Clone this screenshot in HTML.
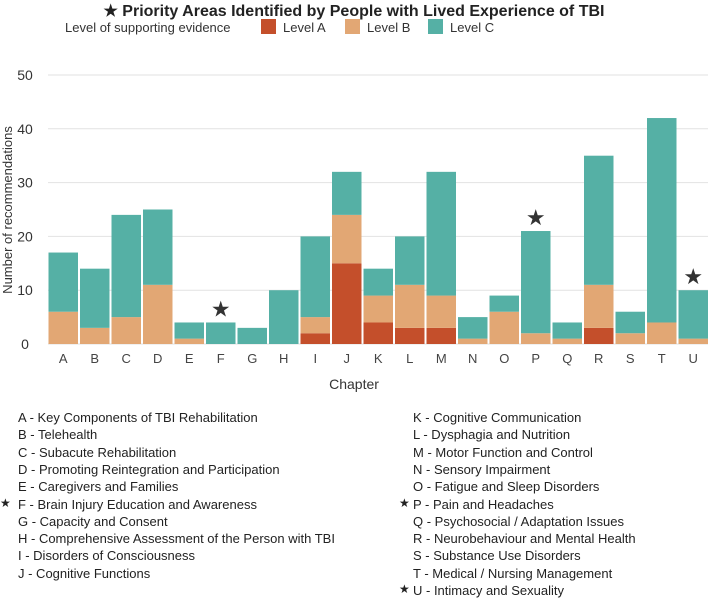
<!DOCTYPE html>
<html><head><meta charset="utf-8"><style>
body{margin:0;width:708px;height:603px;background:#fff;font-family:"Liberation Sans",sans-serif;color:#222;overflow:hidden;position:relative}
.t{position:absolute;white-space:nowrap}
</style></head><body>
<div class="t" style="left:0;width:708px;text-align:center;top:1px;font-size:16px;font-weight:bold;color:#222">★ Priority Areas Identified by People with Lived Experience of TBI</div>
<svg id="c" width="708" height="400" style="position:absolute;left:0;top:0"></svg>
<div id="key"></div>
<script>
const categories=["A","B","C","D","E","F","G","H","I","J","K","L","M","N","O","P","Q","R","S","T","U"];
const levelA=[0,0,0,0,0,0,0,0,2,15,4,3,3,0,0,0,0,3,0,0,0];
const levelB=[6,3,5,11,1,0,0,0,3,9,5,8,6,1,6,2,1,8,2,4,1];
const levelC=[11,11,19,14,3,4,3,10,15,8,5,9,23,4,3,19,3,24,4,38,9];
const starred=["F","P","U"];
const yTicks=[0,10,20,30,40,50];
const chapterNames=["Key Components of TBI Rehabilitation","Telehealth","Subacute Rehabilitation","Promoting Reintegration and Participation","Caregivers and Families","Brain Injury Education and Awareness","Capacity and Consent","Comprehensive Assessment of the Person with TBI","Disorders of Consciousness","Cognitive Functions","Cognitive Communication","Dysphagia and Nutrition","Motor Function and Control","Sensory Impairment","Fatigue and Sleep Disorders","Pain and Headaches","Psychosocial / Adaptation Issues","Neurobehaviour and Mental Health","Substance Use Disorders","Medical / Nursing Management","Intimacy and Sexuality"];
const NS="http://www.w3.org/2000/svg";
const svg=document.getElementById('c');
const y0=344,y50=75;
const y=v=>y0-(v/50)*(y0-y50);
const step=31.5,left=48.5,bw=29.5;
const x=i=>left+i*step;
function mk(tag,attrs,txt){const e=document.createElementNS(NS,tag);for(const k in attrs)e.setAttribute(k,attrs[k]);if(txt!=null)e.textContent=txt;svg.appendChild(e);return e;}
yTicks.forEach(t=>{
  const l=mk('line',{x1:48,x2:708,y1:y(t),y2:y(t),stroke:'#e2e2e2','stroke-width':1});
  
  
  const tx=mk('text',{x:25,y:y(t)+5,'text-anchor':'middle','font-size':14,fill:'#333','font-family':'Liberation Sans'},t);
  
  
});
const cols=['#c44f2b','#e2a774','#55b0a5'];
categories.forEach((c,i)=>{
  const segs=[levelA[i],levelB[i],levelC[i]];let base=0;
  segs.forEach((v,k)=>{ if(v<=0)return;
    const r=mk('rect',{x:x(i),y:y(base+v),width:bw,height:y(base)-y(base+v),fill:cols[k]});
    
    
    base+=v;});
  const tx=mk('text',{x:x(i)+bw/2,y:363,'text-anchor':'middle','font-size':13,fill:'#444','font-family':'Liberation Sans'},c);
  
  
  if(starred.includes(c)){
    const s=mk('text',{x:x(i)+bw/2,y:y(base)-6,'text-anchor':'middle','font-size':22,fill:'#333','font-family':'DejaVu Sans'},'★');
    
    
  }
});
let t=mk('text',{x:354,y:389,'text-anchor':'middle','font-size':14,fill:'#333','font-family':'Liberation Sans'},'Chapter');

t=mk('text',{x:0,y:0,transform:'translate(12,210) rotate(-90)','text-anchor':'middle','font-size':13,fill:'#333','font-family':'Liberation Sans'},'Number of recommendations');

t=mk('text',{x:65,y:32,'font-size':13,fill:'#333','font-family':'Liberation Sans'},'Level of supporting evidence');

['Level A','Level B','Level C'].forEach((n,k)=>{
  const lx=[261,345,428][k];
  const r=mk('rect',{x:lx,y:19,width:15,height:15,fill:cols[k]});
  
  const tt=mk('text',{x:lx+22,y:32,'font-size':13,fill:'#333','font-family':'Liberation Sans'},n);
  
});
const key=document.getElementById('key');
categories.forEach((c,i)=>{
  const col=i<10?0:1,row=i<10?i:i-10;
  const d=document.createElement('div');d.className='t';
  d.style.left=(col?413:18)+'px';d.style.top=(410+row*17.3)+'px';d.style.fontSize='13px';d.style.color='#222';
  d.textContent=c+' - '+chapterNames[i];
  
  
  key.appendChild(d);
  if(starred.includes(c)){const s=document.createElement('div');s.className='t';
    s.style.left=(col?399:0)+'px';s.style.top=(409+row*17.3)+'px';s.style.fontSize='12px';s.textContent='★';
    
    
    key.appendChild(s);}
});
</script>
</body></html>
